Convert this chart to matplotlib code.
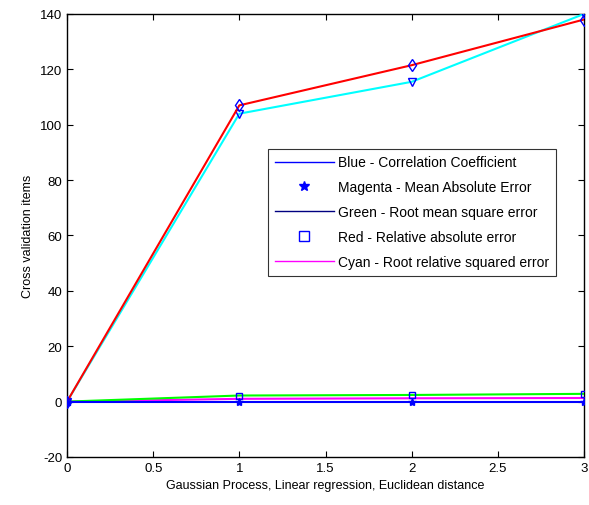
import matplotlib.pyplot as plt
from matplotlib.lines import Line2D

plt.rcParams['font.family'] = ['Liberation Sans', 'DejaVu Sans']
plt.rcParams['axes.unicode_minus'] = False

x = [0, 1, 2, 3]
corr = [0, 0, 0, 0]
mae = [0, 1.0, 1.2, 1.3]
rmse = [0, 2.2, 2.4, 2.8]
rae = [0, 107, 121.5, 138]
rrse = [0, 104, 115.5, 140]

labels = ['Blue - Correlation Coefficient',
          'Magenta - Mean Absolute Error',
          'Green - Root mean square error',
          'Red - Relative absolute error',
          'Cyan - Root relative squared error']

fig = plt.figure(figsize=(5.89, 5.06), dpi=100)
ax = fig.add_axes([0.1138, 0.0949, 0.8777, 0.8755])

ax.plot(x, rrse, color='cyan', lw=1.5, marker='v', ms=6, mfc='none', mec='blue', zorder=3)
ax.plot(x, rae, color='red', lw=1.5, marker='d', ms=6, mfc='none', mec='blue', zorder=4)
ax.plot(x, mae, color='magenta', lw=1.5, zorder=2)
ax.plot(x, rmse, color='lime', lw=1.5, marker='s', ms=5, mfc='none', mec='blue', zorder=3)
ax.plot(x, corr, color='blue', lw=1.5, marker='*', ms=6, mfc='blue', mec='blue', zorder=4)

ax.set_xlim(0, 3)
ax.set_ylim(-20, 140)
ax.set_xticks([0, 0.5, 1, 1.5, 2, 2.5, 3])
ax.set_xticklabels(['0', '0.5', '1', '1.5', '2', '2.5', '3'])
ax.set_yticks(range(-20, 141, 20))
ax.tick_params(direction='in', top=True, right=True, labelsize=9.5, length=4)
for s in ax.spines.values():
    s.set_linewidth(1.0)

ax.set_xlabel('Gaussian Process, Linear regression, Euclidean distance', fontsize=9)
ax.set_ylabel('Cross validation items', fontsize=9)

handles = [Line2D([], [], color='blue', lw=1),
           Line2D([], [], color='blue', lw=0, marker='*', ms=7),
           Line2D([], [], color='navy', lw=1),
           Line2D([], [], color='blue', lw=0, marker='s', ms=7, mfc='none'),
           Line2D([], [], color='magenta', lw=1)]
leg = ax.legend(handles, labels, loc='upper left', bbox_to_anchor=(0.376, 0.712),
                fontsize=10, frameon=True, fancybox=False, edgecolor='black',
                handlelength=4.2, handletextpad=0.3, labelspacing=0.78, borderpad=0.5)
leg.get_frame().set_linewidth(0.8)

fig.savefig('out.png', dpi=100)
